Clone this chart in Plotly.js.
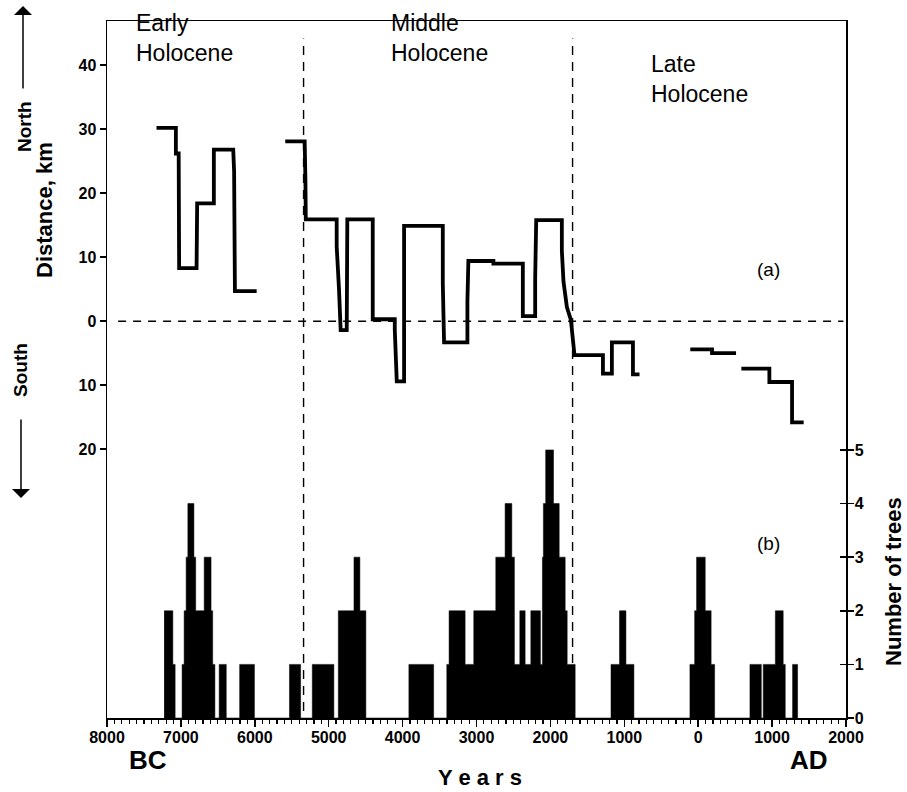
<!DOCTYPE html>
<html>
<head>
<meta charset="utf-8">
<script src="https://cdn.plot.ly/plotly-3.0.1.min.js"></script>
<style>
html,body{margin:0;padding:0;background:#fff;}
#chart{width:907px;height:792px;}
</style>
</head>
<body>
<div id="chart"></div>
<script>
// ---- Data (years: negative = BC, positive = AD) ----
// (a) Distance of treeline shift, km (positive = north, negative = south)
var distYears = [
  -7330,-7068,-7068,-7030,-7024,-6788,-6780,-6554,-6554,-6292,-6280,-6269,-5975,
  null,
  -5588,-5325,-5315,-5310,-4892,-4892,-4861,-4838,-4756,-4756,-4748,-4404,-4404,-4106,-4106,-4079,-3980,-3980,
  -3456,-3456,-3439,-3123,-3123,-3110,-2771,-2771,-2373,-2373,-2206,-2206,-2192,-1845,-1845,-1823,-1800,-1777,
  -1723,-1696,-1674,-1289,-1289,-1168,-1168,-883,-883,-794,
  null,
  -107,187,187,512,
  null,
  584,963,963,1270,1270,1427
];
var distKm = [
  30.2,30.2,26.2,26.2,8.3,8.3,18.4,18.4,26.8,26.8,23.4,4.7,4.7,
  null,
  28.1,28.1,22,15.9,15.9,11.7,5.1,-1.4,-1.4,7.3,15.9,15.9,0.3,0.3,-1.3,-9.4,-9.4,14.9,
  14.9,5.9,-3.3,-3.3,3.0,9.4,9.4,9.0,9.0,0.8,0.8,6.7,15.8,15.8,11,6.2,3.8,2.2,
  0.2,-3.4,-5.3,-5.3,-8.2,-8.2,-3.3,-3.3,-8.3,-8.3,
  null,
  -4.4,-4.4,-5.0,-5.0,
  null,
  -7.4,-7.4,-9.5,-9.5,-15.8,-15.8
];

// (b) Number of trees: year at which the count changes, and the new count
var treeYears = [
  -7227,-7109,-7078,
  -6984,-6956,-6929,-6906,-6824,-6800,-6685,-6592,-6570,-6540,
  -6482,-6386,
  -6205,-6005,
  -5531,-5380,
  -5222,-4930,
  -4870,-4658,-4578,-4497,
  -3915,-3580,
  -3402,-3371,-3154,-3037,-2739,-2613,-2522,-2487,-2414,-2342,-2265,-2135,-2108,-2095,-2064,-1958,-1881,-1800,-1773,-1665,
  -1180,-1065,-978,-870,
  -112,-48,-22,95,175,222,
  700,854,
  880,1044,1150,1178,
  1277,1345
];
var treeCounts = [
  2,1,0,
  1,2,3,4,3,2,3,2,1,0,
  1,0,
  1,0,
  1,0,
  1,0,
  2,3,2,0,
  1,0,
  1,2,1,2,3,4,3,1,2,1,2,1,3,4,5,4,3,2,1,0,
  1,2,1,0,
  1,2,3,2,1,0,
  1,0,
  1,2,1,0,
  1,0
];

// Axis ticks
var yearTicks = [-8000,-7000,-6000,-5000,-4000,-3000,-2000,-1000,0,1000,2000];
var yearTickText = ['8000','7000','6000','5000','4000','3000','2000','1000','0','1000','2000'];
var distTicks = [-20,-10,0,10,20,30,40];
var distTickText = ['20','10','0','10','20','30','40'];
var treeTicks = [0,1,2,3,4,5];
var treeTickText = ['0','1','2','3','4','5'];

// Period boundaries
var boundaries = [-5340, -1700];

// ---- Layout helpers (pixel -> paper) ----
var L = 107, R = 846, T = 21, B = 718;
function px(x){ return (x - L) / (R - L); }
function py(y){ return (B - y) / (B - T); }
function bold(a){ return a.map(function(s){ return '<b>' + s + '</b>'; }); }

var FONT = 'Liberation Sans, Arial, sans-serif';

var traces = [
  {
    x: treeYears, y: treeCounts, yaxis: 'y2', type: 'scatter', mode: 'lines',
    line: {color: '#000', width: 0.5, shape: 'hv'},
    fill: 'tozeroy', fillcolor: '#000', hoverinfo: 'skip'
  },
  {
    x: distYears, y: distKm, type: 'scatter', mode: 'lines',
    line: {color: '#000', width: 3.8, shape: 'linear'},
    connectgaps: false, hoverinfo: 'skip'
  },
  {x: [null], y: [null], yaxis: 'y3', type: 'scatter', mode: 'lines', hoverinfo: 'skip'}
];

var shapes = [
  {type:'line', xref:'x', yref:'y', x0:-7850, x1:1965, y0:0, y1:0,
   line:{color:'#000', width:1.4, dash:'8px,7px'}, layer:'below'}
];
boundaries.forEach(function(b){
  shapes.push({type:'line', xref:'x', yref:'paper', x0:b, x1:b, y0:0.01, y1:0.975,
    line:{color:'#000', width:1.4, dash:'9px,7px'}, layer:'below'});
});

function txt(text, x, y, size, extra){
  var a = {text:text, x:px(x), y:py(y), xref:'paper', yref:'paper', xanchor:'center', yanchor:'middle',
           showarrow:false, font:{family:FONT, size:size, color:'#000'}};
  for (var k in (extra||{})) a[k] = extra[k];
  return a;
}

var annotations = [
  txt('Early<br>Holocene', 134, 38, 23, {xanchor:'left', align:'left'}),
  txt('Middle<br>Holocene', 389, 38, 23, {xanchor:'left', align:'left'}),
  txt('Late<br>Holocene', 649, 79, 23, {xanchor:'left', align:'left'}),
  txt('(a)', 768, 269, 19),
  txt('(b)', 768, 543, 19),
  txt('<b>Distance, km</b>', 45, 210, 22, {textangle:-90}),
  txt('<b>North</b>', 24, 127, 19, {textangle:-90}),
  txt('<b>South</b>', 20, 370, 19, {textangle:-90}),
  {text:'', x:px(23), y:py(6), xref:'paper', yref:'paper', showarrow:true, ax:0, ay:84, arrowhead:1, arrowsize:2, arrowwidth:1.5, arrowcolor:'#000'},
  {text:'', x:px(21), y:py(498), xref:'paper', yref:'paper', showarrow:true, ax:0, ay:-80, arrowhead:1, arrowsize:2, arrowwidth:1.5, arrowcolor:'#000'},
  txt('<b>Number of trees</b>', 893, 582, 22, {textangle:-90}),
  txt('<b>Y e a r s</b>', 480, 777, 22),
  txt('<b>BC</b>', 148, 760, 26),
  txt('<b>AD</b>', 809, 760, 26)
];

var tickFont = {family: FONT, size: 16, color: '#000'};

var layout = {
  width: 907, height: 792,
  margin: {l: L, r: 907 - R, t: T, b: 792 - B, pad: 0},
  paper_bgcolor: '#fff', plot_bgcolor: '#fff',
  showlegend: false,
  font: {family: FONT, color: '#000'},
  xaxis: {
    range: [-8000, 2000], tickmode: 'array', tickvals: yearTicks, ticktext: bold(yearTickText),
    ticks: 'outside', ticklen: 7, tickwidth: 1.5, tickcolor: '#000',
    minor: {tickmode: 'linear', tick0: -8000, dtick: 100, ticks: 'outside', ticklen: 4, tickwidth: 1.2, tickcolor: '#000'},
    showline: true, linecolor: '#000', linewidth: 1.5, mirror: true,
    showgrid: false, zeroline: false, tickfont: tickFont, ticklabelstandoff: -3, fixedrange: true
  },
  yaxis: {
    range: [-62.0, 46.9], tickmode: 'array', tickvals: distTicks, ticktext: bold(distTickText),
    ticks: 'outside', ticklen: 6, tickwidth: 1.5, tickcolor: '#000',
    showline: true, linecolor: '#000', linewidth: 1.5,
    showgrid: false, zeroline: false, tickfont: tickFont, fixedrange: true
  },
  yaxis2: {
    overlaying: 'y', side: 'right', range: [0, 13.0], tickmode: 'array', tickvals: treeTicks, ticktext: bold(treeTickText),
    ticks: 'outside', ticklen: 6, tickwidth: 1.5, tickcolor: '#000',
    showline: true, linecolor: '#000', linewidth: 1.5,
    showgrid: false, zeroline: false, tickfont: tickFont, ticklabelstandoff: -2, fixedrange: true
  },
  yaxis3: {
    overlaying: 'y', side: 'right', range: [0, 13.0], tickmode: 'array', tickvals: treeTicks,
    ticks: 'inside', ticklen: 6, tickwidth: 1.5, tickcolor: '#000',
    showline: false, showticklabels: false, showgrid: false, zeroline: false, fixedrange: true
  },
  shapes: shapes,
  annotations: annotations
};

Plotly.newPlot('chart', traces, layout, {displayModeBar: false, staticPlot: true});
</script>
</body>
</html>
